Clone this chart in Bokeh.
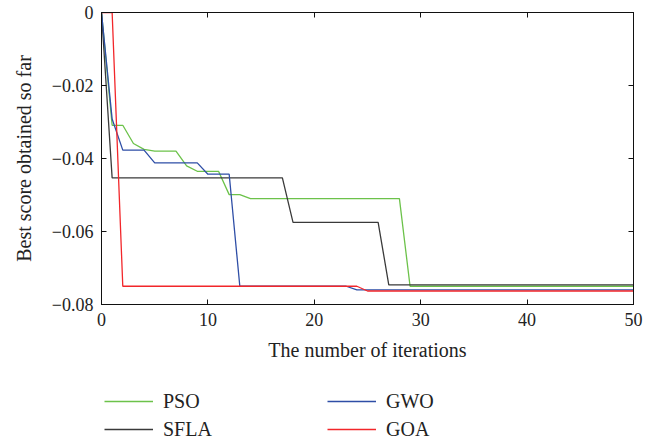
from bokeh.plotting import figure
from bokeh.models import Legend, LegendItem, LinearAxis, FixedTicker
from bokeh.layouts import column
from bokeh.embed import file_html
from bokeh.resources import INLINE

iterations = list(range(0, 51))

pso = [0.0, -0.0309, -0.0309, -0.0359, -0.0375, -0.0380, -0.0380, -0.0380, -0.0420, -0.0435,
       -0.0435, -0.0435, -0.0499, -0.0499, -0.0510, -0.0510, -0.0510, -0.0510, -0.0510, -0.0510,
       -0.0510, -0.0510, -0.0510, -0.0510, -0.0510, -0.0510, -0.0510, -0.0510, -0.0510, -0.0750,
       -0.0750, -0.0750, -0.0750, -0.0750, -0.0750, -0.0750, -0.0750, -0.0750, -0.0750, -0.0750,
       -0.0750, -0.0750, -0.0750, -0.0750, -0.0750, -0.0750, -0.0750, -0.0750, -0.0750, -0.0750,
       -0.0750]

sfla = [0.0, -0.0453, -0.0453, -0.0453, -0.0453, -0.0453, -0.0453, -0.0453, -0.0453, -0.0453,
        -0.0453, -0.0453, -0.0453, -0.0453, -0.0453, -0.0453, -0.0453, -0.0453, -0.0575, -0.0575,
        -0.0575, -0.0575, -0.0575, -0.0575, -0.0575, -0.0575, -0.0575, -0.0746, -0.0746, -0.0746,
        -0.0746, -0.0746, -0.0746, -0.0746, -0.0746, -0.0746, -0.0746, -0.0746, -0.0746, -0.0746,
        -0.0746, -0.0746, -0.0746, -0.0746, -0.0746, -0.0746, -0.0746, -0.0746, -0.0746, -0.0746,
        -0.0746]

gwo = [0.0, -0.0292, -0.0377, -0.0377, -0.0377, -0.0412, -0.0412, -0.0412, -0.0412, -0.0412,
       -0.0443, -0.0443, -0.0443, -0.0750, -0.0750, -0.0750, -0.0750, -0.0750, -0.0750, -0.0750,
       -0.0750, -0.0750, -0.0750, -0.0750, -0.0760, -0.0760, -0.0760, -0.0760, -0.0760, -0.0760,
       -0.0760, -0.0760, -0.0760, -0.0760, -0.0760, -0.0760, -0.0760, -0.0760, -0.0760, -0.0760,
       -0.0760, -0.0760, -0.0760, -0.0760, -0.0760, -0.0760, -0.0760, -0.0760, -0.0760, -0.0760,
       -0.0760]

goa = [0.0, 0.0, -0.0750, -0.0750, -0.0750, -0.0750, -0.0750, -0.0750, -0.0750, -0.0750,
       -0.0750, -0.0750, -0.0750, -0.0750, -0.0750, -0.0750, -0.0750, -0.0750, -0.0750, -0.0750,
       -0.0750, -0.0750, -0.0750, -0.0750, -0.0750, -0.0763, -0.0763, -0.0763, -0.0763, -0.0763,
       -0.0763, -0.0763, -0.0763, -0.0763, -0.0763, -0.0763, -0.0763, -0.0763, -0.0763, -0.0763,
       -0.0763, -0.0763, -0.0763, -0.0763, -0.0763, -0.0763, -0.0763, -0.0763, -0.0763, -0.0763,
       -0.0763]

series_names = ["PSO", "SFLA", "GWO", "GOA"]
series_colors = ["#6cc24a", "#3a3a3a", "#2e4ea6", "#f2262a"]
series_values = [pso, sfla, gwo, goa]

x_ticks = [0, 10, 20, 30, 40, 50]
y_ticks = [-0.08, -0.06, -0.04, -0.02, 0]
y_tick_labels = ["\u22120.08", "\u22120.06", "\u22120.04", "\u22120.02", "0"]

FONT = "Liberation Serif"
TXT = "#222222"

p = figure(width=659, height=375, x_range=(0, 50), y_range=(-0.08, 0),
           output_backend="svg", toolbar_location=None,
           min_border_left=101, min_border_right=26, min_border_top=12, min_border_bottom=71)

p.background_fill_color = "white"
p.border_fill_color = "white"
p.outline_line_color = "#111111"
p.outline_line_width = 1
p.xgrid.visible = False
p.ygrid.visible = False

for vals, col in zip(series_values, series_colors):
    p.line(iterations, vals, line_color=col, line_width=1.3)

def style_axis(ax):
    ax.axis_line_color = "#111111"
    ax.major_tick_line_color = "#111111"
    ax.major_tick_in = 5
    ax.major_tick_out = 0
    ax.minor_tick_line_color = None
    ax.major_label_text_font = FONT
    ax.major_label_text_color = TXT
    ax.major_label_text_font_size = "18px"

p.xaxis.ticker = FixedTicker(ticks=x_ticks)
p.yaxis.ticker = FixedTicker(ticks=y_ticks)
p.yaxis.major_label_overrides = {v: s for v, s in zip(y_ticks, y_tick_labels)}
style_axis(p.xaxis[0])
style_axis(p.yaxis[0])
p.xaxis.major_label_standoff = 8
p.yaxis.major_label_standoff = 8

p.xaxis.axis_label = "The number of iterations"
p.yaxis.axis_label = "Best score obtained so far"
for ax in (p.xaxis[0], p.yaxis[0]):
    ax.axis_label_text_font = FONT
    ax.axis_label_text_font_size = "20px"
    ax.axis_label_text_font_style = "normal"
    ax.axis_label_text_color = TXT
p.xaxis.axis_label_standoff = 10
p.yaxis.axis_label_standoff = 14

top_ax = LinearAxis(ticker=FixedTicker(ticks=x_ticks))
style_axis(top_ax)
top_ax.major_label_overrides = {v: "" for v in x_ticks}
top_ax.major_label_standoff = 0
p.add_layout(top_ax, "above")
right_ax = LinearAxis(ticker=FixedTicker(ticks=y_ticks))
style_axis(right_ax)
right_ax.major_label_overrides = {v: "" for v in y_ticks}
right_ax.major_label_standoff = 0
p.add_layout(right_ax, "right")

# legend panel below the chart (series drawn there out of view, only for legend glyphs)
p2 = figure(width=659, height=66, x_range=(0, 50), y_range=(1, 2),
            output_backend="svg", toolbar_location=None,
            x_axis_location=None, y_axis_location=None, min_border=0)
p2.outline_line_color = None
p2.xgrid.visible = False
p2.ygrid.visible = False
p2.background_fill_color = "white"
p2.border_fill_color = "white"

items = []
for name, vals, col in zip(series_names, series_values, series_colors):
    r = p2.line(iterations, vals, line_color=col, line_width=1.3)
    items.append(LegendItem(label=name, renderers=[r]))

legend = Legend(items=items, location=(3, 0), orientation="vertical", nrows=2)
legend.label_text_font = FONT
legend.label_text_font_size = "20px"
legend.label_text_color = TXT
legend.glyph_width = 49
legend.glyph_height = 24
legend.label_height = 24
legend.label_standoff = 10
legend.label_width = 160
legend.spacing = 4
legend.padding = 0
legend.margin = 0
legend.border_line_alpha = 0
legend.background_fill_alpha = 0
p2.add_layout(legend, "center")

layout = column(p, p2, spacing=0)
open("out.html", "w").write(file_html(layout, INLINE))
